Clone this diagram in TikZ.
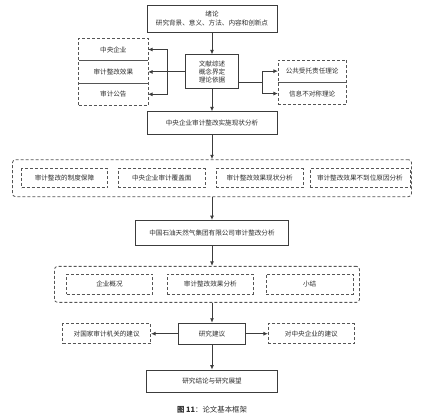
\documentclass[tikz,border=0pt]{standalone}
\usepackage{fontspec}
\setmainfont{Noto Sans CJK SC}
\usepackage{tikz}
\usetikzlibrary{arrows.meta,positioning,fit,calc}
\definecolor{inkgray}{RGB}{60,60,60}
\definecolor{dashgray}{RGB}{85,85,85}
\definecolor{textgray}{RGB}{45,45,45}

\begin{document}
\begin{tikzpicture}[
  mainbox/.style={rectangle, draw=inkgray, line width=0.9pt, fill=white, align=center, inner sep=1pt, text=textgray},
  subbox/.style={rectangle, draw=dashgray, line width=0.8pt, dash pattern=on 3pt off 2pt, minimum height=19pt, align=center, inner sep=1pt, text=textgray},
  groupbox/.style={rectangle, draw=dashgray, line width=0.8pt, dash pattern=on 3pt off 2pt, rounded corners=3pt},
  cell/.style={rectangle, minimum width=69pt, minimum height=22pt, inner sep=1pt, text=textgray},
  sepline/.style={draw=dashgray, line width=0.5pt},
  arrow/.style={-{Latex[length=4.5pt,width=4pt]}, draw=inkgray, line width=0.9pt},
  line/.style={draw=inkgray, line width=0.9pt},
  every node/.style={font=\fontsize{6.6}{8.4}\selectfont}
]
\useasboundingbox (0,0) rectangle (421pt,-416pt);

% main column
\node[mainbox, minimum width=130pt, minimum height=27pt] (intro) at (212pt,-18.5pt) {绪论\\研究背景、意义、方法、内容和创新点};
\node[mainbox, minimum width=53pt, minimum height=34pt, below=22pt of intro] (review) {文献综述\\概念界定\\理论依据};
\node[mainbox, minimum width=130pt, minimum height=23pt, below=22pt of review] (status) {中央企业审计整改实施现状分析};
\node[groupbox, minimum width=399pt, minimum height=37pt, below=24pt of status] (grpA) {};
\node[mainbox, minimum width=153pt, minimum height=25pt, below=23pt of grpA] (case) {中国石油天然气集团有限公司审计整改分析};
\node[groupbox, minimum width=305pt, minimum height=36pt, below=20pt of case, xshift=-5pt] (grpB) {};
\node[mainbox, minimum width=67pt, minimum height=21pt, below=20pt of grpB, xshift=5pt] (advice) {研究建议};
\node[mainbox, minimum width=131pt, minimum height=22pt, below=25pt of advice] (concl) {研究结论与研究展望};
\node[inner sep=0pt, font=\fontsize{7.4}{9}\selectfont, text=textgray, below=13pt of concl] (caption) {\textbf{图 11}：论文基本框架};

% left group: research objects
\node[cell, left=37pt of review] (effect) {审计整改效果};
\node[cell, above=0pt of effect] (soe) {中央企业};
\node[cell, below=0pt of effect] (notice) {审计公告};
\node[groupbox, rounded corners=0pt, fit=(soe)(notice), inner sep=0pt] (grpL) {};
\draw[sepline] (soe.south west) -- (soe.south east);
\draw[sepline] (effect.south west) -- (effect.south east);

% right group: theories
\coordinate (rjoin) at ($(review.south east)+(0,7pt)$);
\node[cell, minimum width=68pt, above right=0pt and 39pt of rjoin] (trust) {公共受托责任理论};
\node[cell, minimum width=68pt, below=0pt of trust] (asym) {信息不对称理论};
\node[groupbox, rounded corners=0pt, fit=(trust)(asym), inner sep=0pt] (grpR) {};
\draw[sepline] (trust.south west) -- (trust.south east);

% first group contents
\node[subbox, minimum width=86pt, right=9pt of grpA.west] (rule) {审计整改的制度保障};
\node[subbox, minimum width=87pt, right=10pt of rule] (cover) {中央企业审计覆盖面};
\node[subbox, minimum width=87pt, right=10pt of cover] (now) {审计整改效果现状分析};
\node[subbox, minimum width=100pt, right=6pt of now] (cause) {审计整改效果不到位原因分析};

% second group contents
\node[subbox, minimum width=86pt, minimum height=20pt, right=12pt of grpB.west] (profile) {企业概况};
\node[subbox, minimum width=86pt, minimum height=20pt, right=14pt of profile] (result) {审计整改效果分析};
\node[subbox, minimum width=87pt, minimum height=20pt, right=12pt of result] (summary) {小结};

% suggestions
\node[subbox, minimum width=88pt, minimum height=20pt, left=27pt of advice] (toaudit) {对国家审计机关的建议};
\node[subbox, minimum width=86pt, minimum height=20pt, right=22pt of advice] (toent) {对中央企业的建议};

% connectors
\draw[arrow] (intro) -- (review);
\draw[arrow] (review) -- (status);
\draw[arrow] (status) -- (status |- grpA.north);
\draw[arrow] (case |- grpA.south) -- (case);
\draw[arrow] (case) -- (case |- grpB.north);
\draw[arrow] (advice |- grpB.south) -- (advice);
\draw[arrow] (advice) -- (concl);
\draw[arrow] (advice) -- (toaudit);
\draw[arrow] (advice) -- (toent);

\coordinate (lbus) at ($(review.west)+(-18pt,0)$);
\draw[line] (review.west) -- (lbus);
\draw[arrow] (lbus) |- (soe.east);
\draw[arrow] (lbus) -- (effect.east);
\draw[arrow] (lbus) |- (notice.east);

\coordinate (rbus) at ($(rjoin)+(23pt,0)$);
\draw[line] (rjoin) -- (rbus);
\draw[arrow] (rbus) |- (trust.west);
\draw[arrow] (rbus) |- (asym.west);

\end{tikzpicture}
\end{document}
